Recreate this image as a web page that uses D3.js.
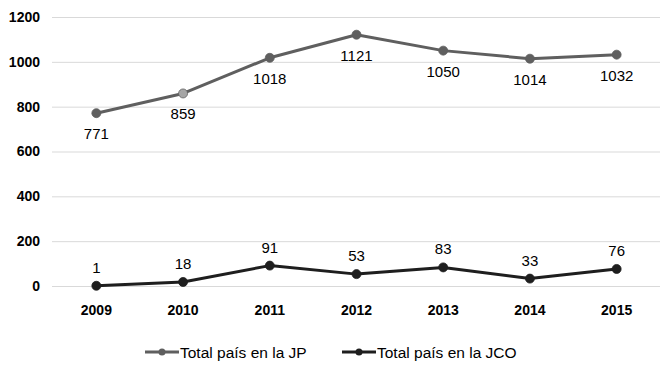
<!DOCTYPE html>
<html><head><meta charset="utf-8">
<script src="https://cdn.jsdelivr.net/npm/d3@7"></script>
<style>body{margin:0;background:#fff;} text{font-family:"Liberation Sans",Arial,sans-serif;}</style>
</head><body>
<svg id="c" width="671" height="367"></svg>
<script>
const years = ["2009","2010","2011","2012","2013","2014","2015"];
const jpValues = [771, 859, 1018, 1121, 1050, 1014, 1032];
const jcoValues = [1, 18, 91, 53, 83, 33, 76];
const yTicks = [0, 200, 400, 600, 800, 1000, 1200];
const seriesNames = ["Total país en la JP", "Total país en la JCO"];

(function () {
const svg = d3.select("#c");
const mLeft = 52, mRight = 660, mTop = 17, mBottom = 286;
const x = d3.scaleBand().domain(years).range([mLeft + 1, mRight]);
const y = d3.scaleLinear().domain([0, 1200]).range([mBottom, mTop]);
const cx = d => x(d) + x.bandwidth() / 2;

// gridlines
svg.append("g").selectAll("line").data(yTicks).join("line")
  .attr("x1", mLeft).attr("x2", mRight)
  .attr("y1", d => y(d) + 0.5).attr("y2", d => y(d) + 0.5)
  .attr("stroke", "#d9d9d9").attr("stroke-width", 1);

// y axis labels
const yAxis = svg.append("g").attr("transform", `translate(40,0)`)
  .call(d3.axisLeft(y).tickValues(yTicks).tickFormat(d3.format("d")).tickSize(0).tickPadding(0));
yAxis.select(".domain").remove();
yAxis.selectAll("text").attr("font-size", 14).attr("font-weight", "bold").attr("fill", "#000")
  .attr("font-family", "Liberation Sans, Arial, sans-serif");

// x axis labels
const xAxis = svg.append("g").attr("transform", `translate(0,${mBottom + 19})`)
  .call(d3.axisBottom(x).tickSize(0).tickPadding(0));
xAxis.select(".domain").remove();
xAxis.selectAll("text").attr("font-size", 14).attr("font-weight", "bold").attr("fill", "#000")
  .attr("font-family", "Liberation Sans, Arial, sans-serif");

const line = d3.line().x(d => cx(d[0])).y(d => y(d[1]));

function drawSeries(vals, color, labelDy, markerColors) {
  const pts = years.map((yr, i) => [yr, vals[i]]);
  svg.append("path").datum(pts).attr("d", line)
    .attr("fill", "none").attr("stroke", color).attr("stroke-width", 3)
    .attr("stroke-linejoin", "round");
  svg.append("g").selectAll("circle").data(pts).join("circle")
    .attr("cx", d => cx(d[0])).attr("cy", d => y(d[1])).attr("r", 4.5)
    .attr("fill", (d, i) => markerColors ? markerColors[i] : color)
    .attr("stroke", color).attr("stroke-width", 0.8);
  svg.append("g").selectAll("text").data(pts).join("text")
    .attr("x", d => cx(d[0])).attr("y", d => y(d[1]) + labelDy)
    .attr("text-anchor", "middle").attr("font-size", 15).attr("fill", "#000")
    .text(d => d[1]);
}

drawSeries(jpValues, "#5f5f5f", 26, ["#5f5f5f","#a6a6a6","#5f5f5f","#5f5f5f","#5f5f5f","#5f5f5f","#5f5f5f"]);
drawSeries(jcoValues, "#1e1e1e", -13, null);

// legend
const legend = [
  {name: seriesNames[0], color: "#5f5f5f", x0: 145},
  {name: seriesNames[1], color: "#1e1e1e", x0: 342}
];
const lg = svg.append("g");
legend.forEach(l => {
  const ly = 352;
  lg.append("line").attr("x1", l.x0).attr("x2", l.x0 + 34).attr("y1", ly).attr("y2", ly)
    .attr("stroke", l.color).attr("stroke-width", 3);
  lg.append("circle").attr("cx", l.x0 + 17).attr("cy", ly).attr("r", 3.5).attr("fill", l.color);
  lg.append("text").attr("x", l.x0 + 35).attr("y", ly + 5.5).attr("font-size", 15.5).attr("fill", "#000").text(l.name);
});
})();
</script>
</body></html>
